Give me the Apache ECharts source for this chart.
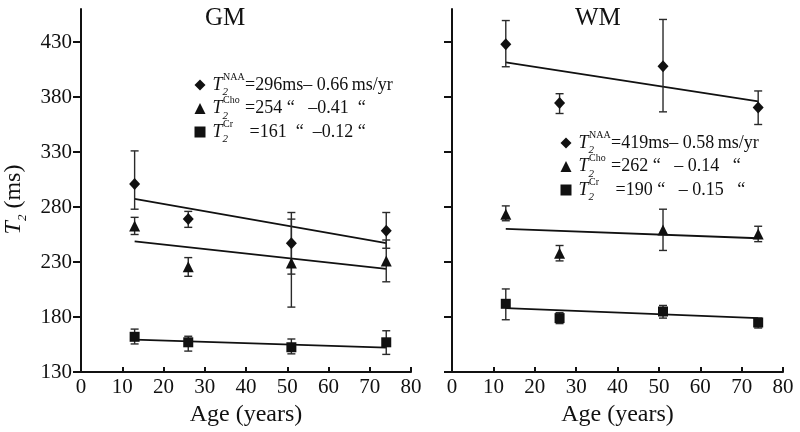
<!DOCTYPE html>
<html><head><meta charset="utf-8">
<script src="https://cdn.jsdelivr.net/npm/echarts@6/dist/echarts.min.js"></script>
<style>html,body{margin:0;padding:0;background:#fff}#c{width:800px;height:432px}</style>
</head><body><div id="c"></div>
<script>
// ---- data ----
const ages = [13, 26, 51, 74];
const yTicks = [130, 180, 230, 280, 330, 380, 430];
const panelTitles = ['GM', 'WM'];

// Grey matter
const gmNAA   = [301, 269, 247, 258.5];
const gmNAAHi = [331, 276, 275, 275];
const gmNAALo = [278, 261.5, 219, 242.5];
const gmCho   = [262.7, 225.7, 229, 231];
const gmChoHi = [270.6, 234, 269, 250];
const gmChoLo = [255, 217, 189, 212];
const gmCr    = [162, 157, 152.5, 157];
const gmCrHi  = [169, 162.5, 160, 167.5];
const gmCrLo  = [155.5, 149, 146.5, 146];

// White matter
const wmNAA   = [428, 374.5, 408, 370.5];
const wmNAAHi = [449.5, 383, 450.5, 385.5];
const wmNAALo = [407.5, 365, 366.5, 355];
const wmCho   = [273.5, 238, 259, 255.5];
const wmChoHi = [281, 245, 278, 262.5];
const wmChoLo = [267.5, 231, 240.5, 248.5];
const wmCr    = [192, 179, 185, 175];
const wmCrHi  = [205.5, 184, 190.5, 179];
const wmCrLo  = [177.5, 174, 179, 170];

// Linear fits (end points)
const fitAges = [13, 74];
const gmNAAFit = [287.4, 247.2];
const gmChoFit = [248.7, 223.7];
const gmCrFit  = [159.4, 152.1];
const wmNAAFit = [411.5, 376.1];
const wmChoFit = [260.2, 251.6];
const wmCrFit  = [188.0, 178.9];

// Legend equation texts
const gmEq = ['=296ms\u2013 0.66\u2009ms/yr', '=254 \u201C   \u20130.41  \u201C', ' =161  \u201C  \u20130.12 \u201C'];
const wmEq = ['=419ms\u2013 0.58\u2009ms/yr', '=262 \u201C   \u2013 0.14   \u201C', ' =190 \u201C   \u2013 0.15   \u201C'];
const metabolites = ['NAA', 'Cho', 'Cr'];
const symbols = ['diamond', 'triangle', 'rect'];

// ---- chart ----
const FONT = 'Liberation Serif';
const INK = '#111';
const chart = echarts.init(document.getElementById('c'), null, {renderer: 'canvas'});

function xAxisOf(idx) {
  return {
    type: 'value', gridIndex: idx, min: 0, max: 80, interval: 10,
    name: 'Age (years)', nameLocation: 'middle', nameGap: 27,
    nameTextStyle: {fontFamily: FONT, fontSize: 24, color: INK},
    axisLine: {show: true, onZero: false, lineStyle: {color: INK, width: 2}},
    axisTick: {show: true, inside: true, length: 5, lineStyle: {color: INK, width: 2}},
    axisLabel: {fontFamily: FONT, fontSize: 21, color: INK, margin: 5},
    splitLine: {show: false}
  };
}
function yAxisOf(idx) {
  const ax = {
    type: 'value', gridIndex: idx, min: 130, max: 460, interval: 50,
    axisLine: {show: true, onZero: false, lineStyle: {color: INK, width: 2}},
    axisTick: {show: true, inside: false, length: 8, customValues: yTicks, lineStyle: {color: INK, width: 2}},
    axisLabel: {show: idx === 0, fontFamily: FONT, fontSize: 21, color: INK, margin: 9, customValues: yTicks},
    splitLine: {show: false}
  };
  if (idx === 0) {
    ax.name = '{t|T}{s|2}{n| (ms)   }';
    ax.nameLocation = 'middle';
    ax.nameGap = 52;
    ax.nameRotate = 90;
    ax.nameTextStyle = {
      fontFamily: FONT, fontSize: 24, color: INK,
      rich: {
        t: {fontFamily: FONT, fontSize: 24, fontStyle: 'italic', color: INK, lineHeight: 30},
        s: {fontFamily: FONT, fontSize: 13, fontStyle: 'italic', color: INK, verticalAlign: 'bottom', lineHeight: 14},
        n: {fontFamily: FONT, fontSize: 24, color: INK, lineHeight: 30}
      }
    };
  }
  return ax;
}

function errSeries(idx, lo, hi) {
  return {
    type: 'custom', xAxisIndex: idx, yAxisIndex: idx, silent: true, z: 2,
    data: ages.map((a, i) => [a, lo[i], hi[i]]),
    encode: {x: 0, y: [1, 2]},
    renderItem: function (params, api) {
      const x = api.value(0);
      const p1 = api.coord([x, api.value(1)]);
      const p2 = api.coord([x, api.value(2)]);
      const w = 4;
      const st = {stroke: '#2a2a2a', lineWidth: 1.4};
      return {type: 'group', children: [
        {type: 'line', shape: {x1: p1[0], y1: p1[1], x2: p2[0], y2: p2[1]}, style: st},
        {type: 'line', shape: {x1: p1[0] - w, y1: p1[1], x2: p1[0] + w, y2: p1[1]}, style: st},
        {type: 'line', shape: {x1: p2[0] - w, y1: p2[1], x2: p2[0] + w, y2: p2[1]}, style: st}
      ]};
    }
  };
}
function ptSeries(idx, name, sym, vals) {
  const size = sym === 'diamond' ? [11, 12] : (sym === 'triangle' ? [11, 11] : [10, 10]);
  return {
    type: 'scatter', name: name, xAxisIndex: idx, yAxisIndex: idx, z: 3,
    symbol: sym, symbolSize: size,
    itemStyle: {color: INK, opacity: 1},
    data: ages.map((a, i) => [a, vals[i]])
  };
}
function fitSeries(idx, vals) {
  return {
    type: 'line', xAxisIndex: idx, yAxisIndex: idx, z: 1, silent: true,
    symbol: 'none', showSymbol: false,
    lineStyle: {color: INK, width: 1.8},
    data: fitAges.map((a, i) => [a, vals[i]])
  };
}

const richLegend = {
  t: {fontFamily: FONT, fontSize: 18, fontStyle: 'italic', color: INK, lineHeight: 26, padding: [0, 0, 0, 2]},
  s: {fontFamily: FONT, fontSize: 11, fontStyle: 'italic', color: INK, lineHeight: 23, verticalAlign: 'bottom', width: 0.5},
  p: {fontFamily: FONT, fontSize: 10, color: INK, lineHeight: 9, verticalAlign: 'top', width: 22},
  m: {fontFamily: FONT, fontSize: 18, color: INK, lineHeight: 26}
};
function legendOf(prefix, eqs, left, top) {
  const map = {};
  metabolites.forEach((m, i) => { map[prefix + ' ' + m] = '{t|T}{s|2}{p|' + m + '}{m|' + eqs[i] + '}'; });
  return {
    orient: 'vertical', left: left, top: top, padding: 0, itemGap: -2.5,
    itemWidth: 11, itemHeight: 11, selectedMode: false,
    data: metabolites.map((m, i) => ({name: prefix + ' ' + m, icon: symbols[i]})),
    formatter: name => map[name],
    textStyle: {fontFamily: FONT, fontSize: 18, color: INK, rich: richLegend},
    itemStyle: {color: INK}
  };
}

const series = [
  errSeries(0, gmNAALo, gmNAAHi), errSeries(0, gmChoLo, gmChoHi), errSeries(0, gmCrLo, gmCrHi),
  errSeries(1, wmNAALo, wmNAAHi), errSeries(1, wmChoLo, wmChoHi), errSeries(1, wmCrLo, wmCrHi),
  fitSeries(0, gmNAAFit), fitSeries(0, gmChoFit), fitSeries(0, gmCrFit),
  fitSeries(1, wmNAAFit), fitSeries(1, wmChoFit), fitSeries(1, wmCrFit),
  ptSeries(0, 'GM NAA', 'diamond', gmNAA), ptSeries(0, 'GM Cho', 'triangle', gmCho), ptSeries(0, 'GM Cr', 'rect', gmCr),
  ptSeries(1, 'WM NAA', 'diamond', wmNAA), ptSeries(1, 'WM Cho', 'triangle', wmCho), ptSeries(1, 'WM Cr', 'rect', wmCr)
];

chart.setOption({
  backgroundColor: '#fff',
  animation: false,
  title: [
    {text: panelTitles[0], left: 205, top: 6, padding: 0, textStyle: {fontFamily: FONT, fontSize: 25, fontWeight: 'normal', color: INK}},
    {text: panelTitles[1], left: 575, top: 6, padding: 0, textStyle: {fontFamily: FONT, fontSize: 25, fontWeight: 'normal', color: INK}}
  ],
  legend: [legendOf('GM', gmEq, 194.5, 72), legendOf('WM', wmEq, 560.5, 130)],
  grid: [
    {left: 81, top: 9, width: 330, height: 363, outerBoundsMode: 'none', containLabel: false},
    {left: 452, top: 9, width: 331, height: 363, outerBoundsMode: 'none', containLabel: false}
  ],
  xAxis: [xAxisOf(0), xAxisOf(1)],
  yAxis: [yAxisOf(0), yAxisOf(1)],
  series: series
});
</script>
</body></html>
